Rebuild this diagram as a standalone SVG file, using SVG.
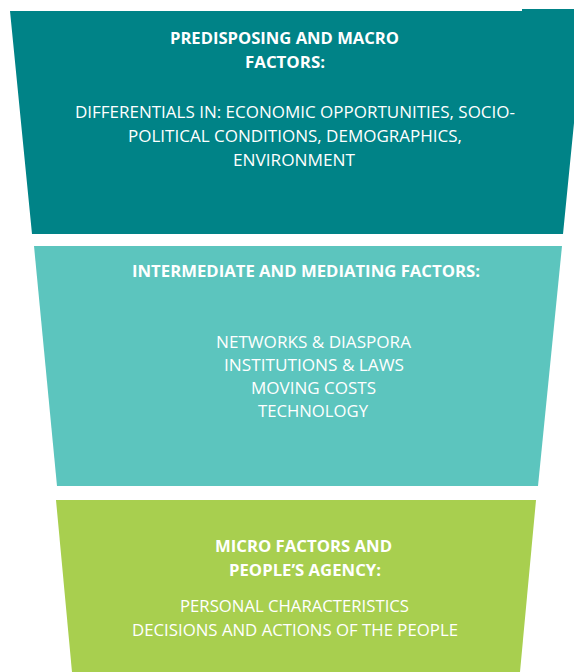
<svg xmlns="http://www.w3.org/2000/svg" width="574" height="672" viewBox="0 0 574 672">
  <style>
    .lbl { font-family: "Open Sans", "Noto Sans", sans-serif; fill: #ffffff; font-size: 16px; }
    .hd { font-weight: bold; }
  </style>
  <rect x="0" y="0" width="574" height="672" fill="#ffffff"/>

  <!-- Funnel tier 1: predisposing and macro factors -->
  <g id="tier-macro">
    <polygon points="10,11 522,11 522,9 574,9 574,123 563,234 32,234" fill="#008387"/>
    <text class="lbl hd" x="284.5" y="44" text-anchor="middle" textLength="229" lengthAdjust="spacingAndGlyphs">PREDISPOSING AND MACRO</text>
    <text class="lbl hd" x="285" y="68" text-anchor="middle" textLength="80" lengthAdjust="spacingAndGlyphs">FACTORS:</text>
    <text class="lbl" x="295" y="118" text-anchor="middle" textLength="440" lengthAdjust="spacingAndGlyphs">DIFFERENTIALS IN: ECONOMIC OPPORTUNITIES, SOCIO-</text>
    <text class="lbl" x="295" y="142" text-anchor="middle" textLength="334" lengthAdjust="spacingAndGlyphs">POLITICAL CONDITIONS, DEMOGRAPHICS,</text>
    <text class="lbl" x="294" y="166" text-anchor="middle" textLength="122" lengthAdjust="spacingAndGlyphs">ENVIRONMENT</text>
  </g>

  <!-- Funnel tier 2: intermediate and mediating factors -->
  <g id="tier-intermediate">
    <polygon points="34,246 562,246 538,486 57,486" fill="#5cc5be"/>
    <text class="lbl hd" x="306" y="277" text-anchor="middle" textLength="348" lengthAdjust="spacingAndGlyphs">INTERMEDIATE AND MEDIATING FACTORS:</text>
    <text class="lbl" x="313.5" y="348" text-anchor="middle" textLength="195" lengthAdjust="spacingAndGlyphs">NETWORKS &amp; DIASPORA</text>
    <text class="lbl" x="314" y="371" text-anchor="middle" textLength="180" lengthAdjust="spacingAndGlyphs">INSTITUTIONS &amp; LAWS</text>
    <text class="lbl" x="313.5" y="394" text-anchor="middle" textLength="125" lengthAdjust="spacingAndGlyphs">MOVING COSTS</text>
    <text class="lbl" x="313" y="417" text-anchor="middle" textLength="110" lengthAdjust="spacingAndGlyphs">TECHNOLOGY</text>
  </g>

  <!-- Funnel tier 3: micro factors and agency -->
  <g id="tier-micro">
    <polygon points="56,500 536,500 520,672 72,672" fill="#a8cf4f"/>
    <text class="lbl hd" x="303.5" y="552" text-anchor="middle" textLength="177" lengthAdjust="spacingAndGlyphs">MICRO FACTORS AND</text>
    <text class="lbl hd" x="305" y="576" text-anchor="middle" textLength="152" lengthAdjust="spacingAndGlyphs">PEOPLE’S AGENCY:</text>
    <text class="lbl" x="294.5" y="612" text-anchor="middle" textLength="229" lengthAdjust="spacingAndGlyphs">PERSONAL CHARACTERISTICS</text>
    <text class="lbl" x="295" y="636" text-anchor="middle" textLength="326" lengthAdjust="spacingAndGlyphs">DECISIONS AND ACTIONS OF THE PEOPLE</text>
  </g>

  <g id="connectors"/>
</svg>
